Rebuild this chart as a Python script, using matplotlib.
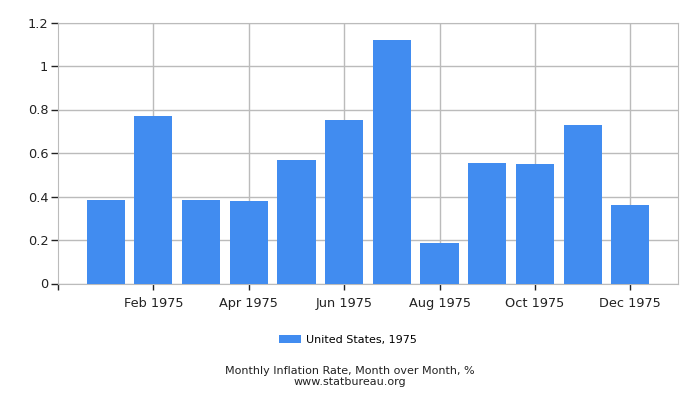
import matplotlib
matplotlib.use("Agg")
import matplotlib.pyplot as plt

months = ["Jan 1975", "Feb 1975", "Mar 1975", "Apr 1975", "May 1975", "Jun 1975",
          "Jul 1975", "Aug 1975", "Sep 1975", "Oct 1975", "Nov 1975", "Dec 1975"]
values = [0.384, 0.770, 0.384, 0.379, 0.568, 0.752, 1.120, 0.186, 0.553, 0.549, 0.729, 0.361]
yticks = [0, 0.2, 0.4, 0.6, 0.8, 1.0, 1.2]
ytick_labels = ["0", "0.2", "0.4", "0.6", "0.8", "1", "1.2"]
series_label = "United States, 1975"
title_line1 = "Monthly Inflation Rate, Month over Month, %"
title_line2 = "www.statbureau.org"

plt.rcParams['font.family'] = ['DejaVu Sans']
fig = plt.figure(figsize=(7, 4), dpi=100)
ax = fig.add_axes([58/700, 1 - 283.5/400, (678-58)/700, (283.5-22.5)/400])

x = list(range(1, len(values) + 1))
ax.bar(x, values, width=0.8, color="#418CF0", zorder=3, label=series_label)

ax.set_xlim(0, 13.0)
ax.set_ylim(0, 1.2)
ax.set_yticks(yticks)
ax.set_yticklabels(ytick_labels)
even = [i for i in x if i % 2 == 0]
ax.set_xticks(even)
ax.set_xticklabels([months[i - 1] for i in even])
ax.set_xticks([0], minor=True)

ax.grid(True, color="#bbbbbb", linewidth=1, zorder=0)
for s in ["top", "right", "bottom", "left"]:
    ax.spines[s].set_color("#bbbbbb")
ax.tick_params(axis="both", which="both", colors="#222222", labelsize=9.3, length=5, width=1)
ax.tick_params(axis="x", which="both", length=4, pad=6)
ax.tick_params(axis="y", pad=2)

handles, labels = ax.get_legend_handles_labels()
fig.legend(handles, labels, loc="center", bbox_to_anchor=(348/700, 1 - 340/400),
           frameon=False, fontsize=8, handlelength=2.0, handleheight=0.7, handletextpad=0.5)
fig.text(350/700, 1 - 371/400, title_line1, ha="center", va="center", fontsize=8, color="#222222")
fig.text(350/700, 1 - 382/400, title_line2, ha="center", va="center", fontsize=8, color="#222222")

fig.savefig("out.png", dpi=100)
